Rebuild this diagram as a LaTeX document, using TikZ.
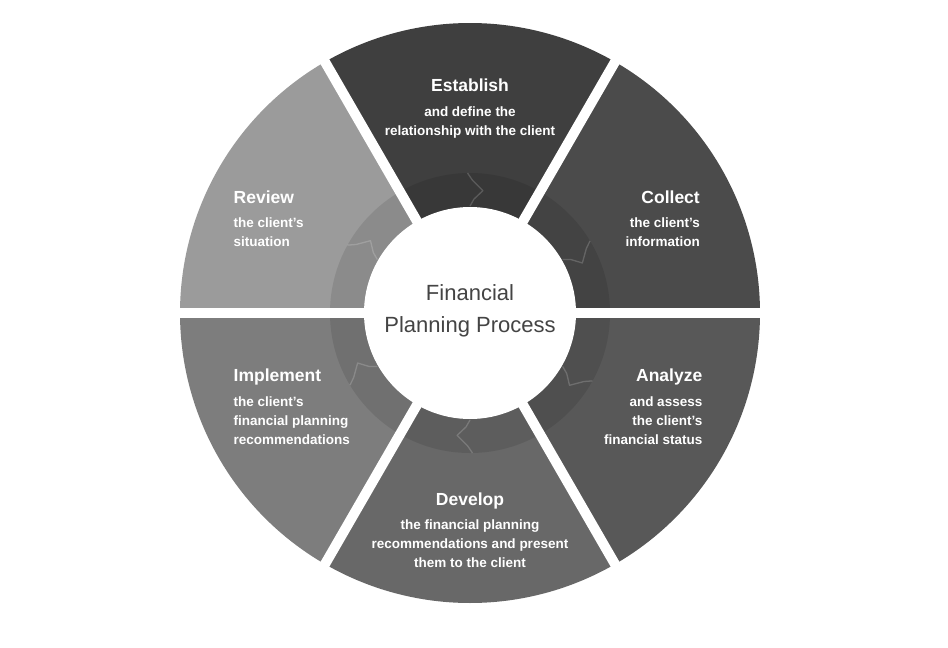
\documentclass[tikz,border=0pt]{standalone}
\usepackage{fontspec}
\setmainfont{Liberation Sans}
\definecolor{cEst}{HTML}{3F3F3F}
\definecolor{cCol}{HTML}{4B4B4B}
\definecolor{cAna}{HTML}{585858}
\definecolor{cDev}{HTML}{686868}
\definecolor{cImp}{HTML}{7D7D7D}
\definecolor{cRev}{HTML}{9B9B9B}
\definecolor{ctrgray}{HTML}{444444}
\begin{document}
\begin{tikzpicture}[x=1pt,y=-1pt,
  ttl/.style={text=white,font=\bfseries\fontsize{17.5}{20}\selectfont,inner sep=0pt},
  sub/.style={text=white,font=\bfseries\fontsize{13.5}{16}\selectfont,inner sep=0pt},
  ctr/.style={text=ctrgray,font=\fontsize{22}{26}\selectfont,inner sep=0pt},
  gap/.style={draw=white,line width=10pt},
  zig/.style={draw=white,draw opacity=0.18,line width=1.3pt,line join=round}]
\useasboundingbox (0,0) rectangle (948,648);
\fill[white] (0,0) rectangle (948,648);
\begin{scope}[shift={(470,313)},yscale=-1]
  \coordinate (O) at (0,0);
  \fill[cCol] (O) -- (0:290) arc[start angle=0,end angle=60,radius=290] -- cycle;
  \fill[cEst] (O) -- (60:290) arc[start angle=60,end angle=120,radius=290] -- cycle;
  \fill[cRev] (O) -- (120:290) arc[start angle=120,end angle=180,radius=290] -- cycle;
  \fill[cImp] (O) -- (180:290) arc[start angle=180,end angle=240,radius=290] -- cycle;
  \fill[cDev] (O) -- (240:290) arc[start angle=240,end angle=300,radius=290] -- cycle;
  \fill[cAna] (O) -- (300:290) arc[start angle=300,end angle=360,radius=290] -- cycle;
  \fill[black,opacity=0.1,even odd rule] (O) circle[radius=140] (O) circle[radius=106];
  \foreach \m in {30,90,150,210,270,330}
    \draw[zig] (\m+1:140) -- (\m-1:133) -- (\m-6:123) -- (\m-2:114) -- (\m:107);
  \foreach \a in {0,60,120,180,240,300}
    \draw[gap] (O) -- (\a:300);
  \fill[white] (O) circle[radius=106];
\end{scope}
% centre
\node[ctr,anchor=base] (c1) at (470,300) {Financial};
\node[ctr,anchor=base] (c2) at (470,332.7) {Planning Process};
% Establish
\node[ttl,anchor=base] (e0) at (470,91) {Establish};
\node[sub,anchor=base] (e1) at (470,116) {and define the};
\node[sub,anchor=base] (e2) at (470,135.5) {relationship with the client};
% Collect
\node[ttl,anchor=base east] (k0) at (700,203) {Collect};
\node[sub,anchor=base east] (k1) at (700,227) {the client’s};
\node[sub,anchor=base east] (k2) at (700,246.7) {information};
% Review
\node[ttl,anchor=base west] (r0) at (233.5,203) {Review};
\node[sub,anchor=base west] (r1) at (233.5,227) {the client’s};
\node[sub,anchor=base west] (r2) at (233.5,246.7) {situation};
% Implement
\node[ttl,anchor=base west] (i0) at (233.5,381.7) {Implement};
\node[sub,anchor=base west] (i1) at (233.5,406) {the client’s};
\node[sub,anchor=base west] (i2) at (233.5,425) {financial planning};
\node[sub,anchor=base west] (i3) at (233.5,444) {recommendations};
% Analyze
\node[ttl,anchor=base east] (a0) at (702.5,381.7) {Analyze};
\node[sub,anchor=base east] (a1) at (702.5,406) {and assess};
\node[sub,anchor=base east] (a2) at (702.5,425) {the client’s};
\node[sub,anchor=base east] (a3) at (702.5,444) {financial status};
% Develop
\node[ttl,anchor=base] (d0) at (470,505.7) {Develop};
\node[sub,anchor=base] (d1) at (470,529.3) {the financial planning};
\node[sub,anchor=base] (d2) at (470,548.7) {recommendations and present};
\node[sub,anchor=base] (d3) at (470,567.7) {them to the client};
\end{tikzpicture}
\end{document}
